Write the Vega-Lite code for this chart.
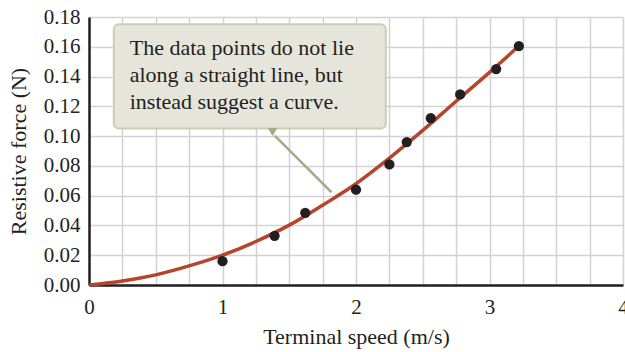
{
  "$schema": "https://vega.github.io/schema/vega-lite/v6.json",
  "width": 534,
  "height": 268,
  "autosize": "none",
  "padding": {"left": 89, "top": 17, "right": 2, "bottom": 67},
  "background": "white",
  "config": {
    "view": {"stroke": null},
    "font": "Liberation Serif"
  },
  "datasets": {
    "points": [
      {"speed": 1.0, "force": 0.016},
      {"speed": 1.39, "force": 0.033},
      {"speed": 1.62, "force": 0.0485},
      {"speed": 2.0, "force": 0.064},
      {"speed": 2.25, "force": 0.081},
      {"speed": 2.38, "force": 0.096},
      {"speed": 2.56, "force": 0.112},
      {"speed": 2.78, "force": 0.128},
      {"speed": 3.05, "force": 0.145},
      {"speed": 3.22, "force": 0.1605}
    ],
    "curve": [
      {"speed": 0, "force": 0},
      {"speed": 0.25, "force": 0.0027},
      {"speed": 0.5, "force": 0.0068},
      {"speed": 0.75, "force": 0.0128},
      {"speed": 1.0, "force": 0.02},
      {"speed": 1.25, "force": 0.0292},
      {"speed": 1.5, "force": 0.0402},
      {"speed": 1.75, "force": 0.0536},
      {"speed": 2.0, "force": 0.068},
      {"speed": 2.25, "force": 0.0852},
      {"speed": 2.5, "force": 0.1038},
      {"speed": 2.75, "force": 0.1234},
      {"speed": 3.0, "force": 0.1428},
      {"speed": 3.22, "force": 0.1605}
    ],
    "xticks": [{"speed": 1}, {"speed": 2}, {"speed": 3}, {"speed": 4}],
    "yticks": [
      {"force": 0.02}, {"force": 0.04}, {"force": 0.06}, {"force": 0.08},
      {"force": 0.1}, {"force": 0.12}, {"force": 0.14}, {"force": 0.16}, {"force": 0.18}
    ],
    "box": [{"x1": 0.186, "x2": 2.223, "y1": 0.1751, "y2": 0.1051}],
    "pointer": [
      {"speed": 1.391, "force": 0.1004},
      {"speed": 1.816, "force": 0.0623}
    ],
    "tip": [{"speed": 1.375, "force": 0.1027}],
    "note": [
      {"speed": 0.305, "force": 0.1542, "text": "The data points do not lie"},
      {"speed": 0.305, "force": 0.1362, "text": "along a straight line, but"},
      {"speed": 0.305, "force": 0.1183, "text": "instead suggest a curve."}
    ]
  },
  "encoding": {
    "x": {
      "field": "speed",
      "type": "quantitative",
      "scale": {"domain": [0, 4], "nice": false, "zero": true},
      "axis": {
        "title": "Terminal speed (m/s)",
        "values": [0, 0.25, 0.5, 0.75, 1, 1.25, 1.5, 1.75, 2, 2.25, 2.5, 2.75, 3, 3.25, 3.5, 3.75, 4],
        "labelExpr": "datum.value % 1 == 0 ? format(datum.value, 'd') : ''",
        "grid": true,
        "gridColor": "#d2d2d2",
        "gridWidth": 1.5,
        "domainColor": "#231f20",
        "domainWidth": 2.5,
        "ticks": false,
        "labelFont": "Liberation Serif",
        "labelFontSize": 21,
        "labelColor": "#231f20",
        "labelPadding": 11,
        "labelFlush": false,
        "labelOverlap": false,
        "titleFont": "Liberation Serif",
        "titleFontSize": 22,
        "titleFontWeight": "normal",
        "titleColor": "#231f20",
        "titlePadding": 9
      }
    },
    "y": {
      "field": "force",
      "type": "quantitative",
      "scale": {"domain": [0, 0.18], "nice": false},
      "axis": {
        "title": "Resistive force (N)",
        "values": [0, 0.02, 0.04, 0.06, 0.08, 0.1, 0.12, 0.14, 0.16, 0.18],
        "format": ".2f",
        "grid": true,
        "gridColor": "#d2d2d2",
        "gridWidth": 1.5,
        "domainColor": "#231f20",
        "domainWidth": 2.5,
        "ticks": false,
        "labelFont": "Liberation Serif",
        "labelFontSize": 21,
        "labelColor": "#231f20",
        "labelPadding": 9,
        "labelFlush": false,
        "labelOverlap": false,
        "titleFont": "Liberation Serif",
        "titleFontSize": 22,
        "titleFontWeight": "normal",
        "titleColor": "#231f20",
        "titlePadding": 13
      }
    }
  },
  "layer": [
    {
      "data": {"name": "xticks"},
      "mark": {"type": "rule", "color": "#231f20", "strokeWidth": 2},
      "encoding": {
        "y": {"datum": 0, "type": "quantitative"},
        "y2": {"datum": 0.0075}
      }
    },
    {
      "data": {"name": "yticks"},
      "mark": {"type": "rule", "color": "#231f20", "strokeWidth": 2},
      "encoding": {
        "x": {"datum": 0, "type": "quantitative"},
        "x2": {"datum": 0.075}
      }
    },
    {
      "data": {"name": "box"},
      "mark": {"type": "rect", "fill": "#b9b99b", "cornerRadius": 5, "yOffset": 3},
      "encoding": {
        "x": {"field": "x1", "type": "quantitative"},
        "x2": {"field": "x2"},
        "y": {"field": "y1", "type": "quantitative"},
        "y2": {"field": "y2"}
      }
    },
    {
      "data": {"name": "box"},
      "mark": {"type": "rect", "fill": "#e5e5dc", "stroke": "#cdcdb5", "strokeWidth": 2, "cornerRadius": 5},
      "encoding": {
        "x": {"field": "x1", "type": "quantitative"},
        "x2": {"field": "x2"},
        "y": {"field": "y1", "type": "quantitative"},
        "y2": {"field": "y2"}
      }
    },
    {
      "data": {"name": "pointer"},
      "mark": {"type": "line", "color": "#a9a98a", "strokeWidth": 2.5},
      "encoding": {}
    },
    {
      "data": {"name": "tip"},
      "mark": {"type": "point", "shape": "triangle-down", "filled": true, "color": "#a9a98a", "opacity": 1, "size": 90},
      "encoding": {}
    },
    {
      "data": {"name": "note"},
      "mark": {"type": "text", "align": "left", "baseline": "alphabetic", "font": "Liberation Serif", "fontSize": 22, "color": "#231f20"},
      "encoding": {"text": {"field": "text"}}
    },
    {
      "data": {"name": "curve"},
      "mark": {"type": "line", "color": "#b5452c", "strokeWidth": 3.5, "interpolate": "monotone"},
      "encoding": {}
    },
    {
      "data": {"name": "points"},
      "mark": {"type": "circle", "color": "#231f20", "opacity": 1, "size": 105},
      "encoding": {}
    }
  ]
}
